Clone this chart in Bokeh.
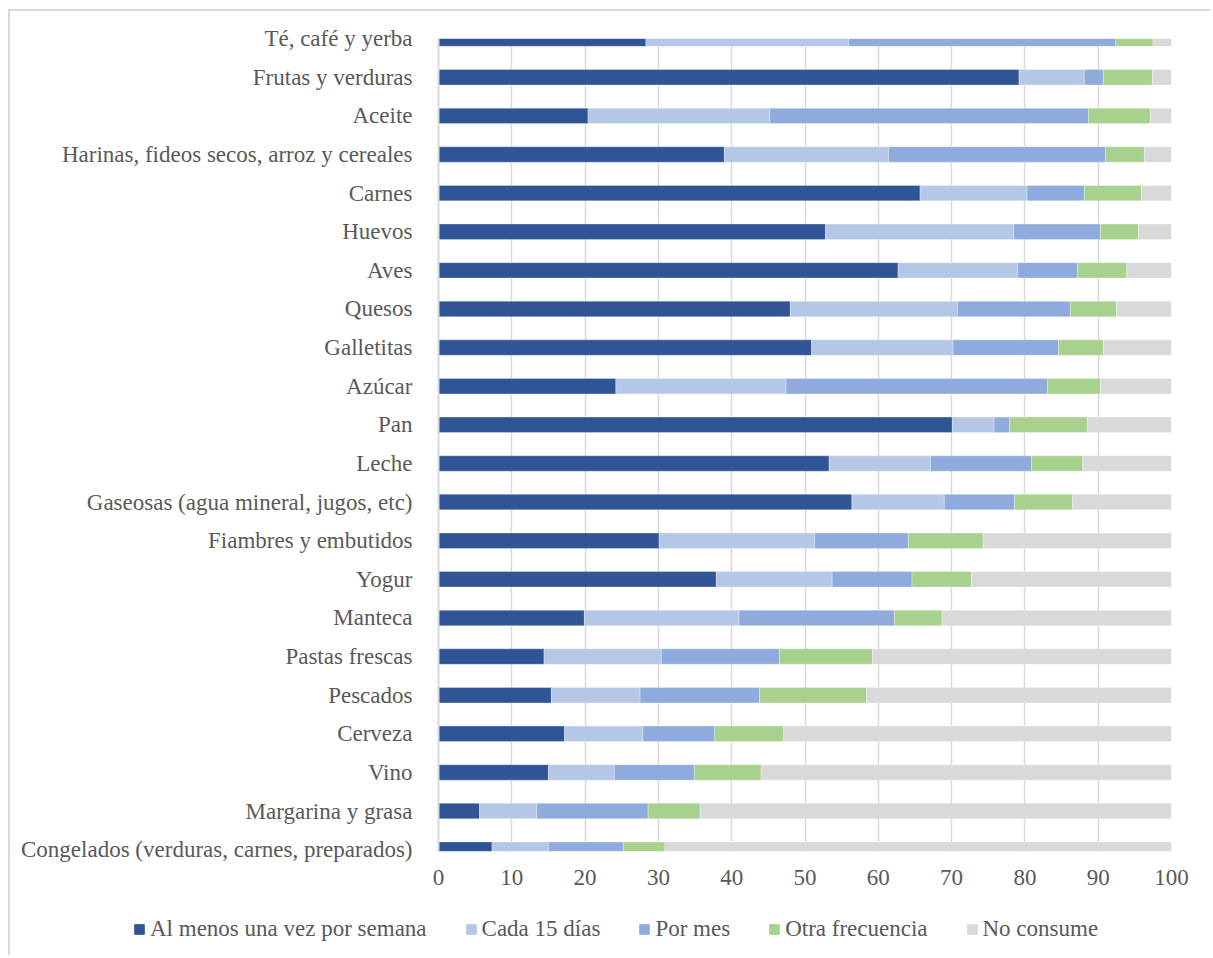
from bokeh.plotting import figure
from bokeh.layouts import column
from bokeh.models import (ColumnDataSource, Range1d, FixedTicker, Legend, LegendItem)
from bokeh.embed import file_html
from bokeh.resources import INLINE

categories = ["Té, café y yerba", "Frutas y verduras", "Aceite",
              "Harinas, fideos secos, arroz y cereales", "Carnes", "Huevos", "Aves",
              "Quesos", "Galletitas", "Azúcar", "Pan", "Leche",
              "Gaseosas (agua mineral, jugos, etc)", "Fiambres y embutidos", "Yogur",
              "Manteca", "Pastas frescas", "Pescados", "Cerveza", "Vino",
              "Margarina y grasa", "Congelados (verduras, carnes, preparados)"]

semana = [28.3, 79.2, 20.4, 39.0, 65.7, 52.8, 62.7, 48.0, 50.9, 24.2, 70.1,
          53.3, 56.4, 30.1, 37.9, 19.9, 14.4, 15.4, 17.2, 15.0, 5.6, 7.3]
quince = [27.7, 8.9, 24.8, 22.4, 14.6, 25.7, 16.3, 22.8, 19.3, 23.2, 5.7,
          13.8, 12.6, 21.2, 15.8, 21.1, 16.0, 12.1, 10.7, 9.0, 7.8, 7.7]
mes = [36.4, 2.6, 43.5, 29.6, 7.8, 11.8, 8.2, 15.4, 14.4, 35.7, 2.1,
       13.8, 9.6, 12.8, 10.9, 21.2, 16.1, 16.3, 9.8, 10.9, 15.2, 10.2]
otra = [5.1, 6.7, 8.4, 5.3, 7.8, 5.2, 6.7, 6.3, 6.1, 7.2, 10.6,
        7.0, 7.9, 10.2, 8.1, 6.5, 12.7, 14.6, 9.4, 9.1, 7.1, 5.7]
no_consume = [2.5, 2.6, 2.9, 3.7, 4.1, 4.5, 6.1, 7.5, 9.3, 9.7, 11.5,
              12.1, 13.5, 25.7, 27.3, 31.3, 40.8, 41.6, 52.9, 56.0, 64.3, 69.1]

series_names = ["Al menos una vez por semana", "Cada 15 días", "Por mes",
                "Otra frecuencia", "No consume"]
x_ticks = [0, 10, 20, 30, 40, 50, 60, 70, 80, 90, 100]

colors = ["#2F5597", "#B4C7E7", "#8FAADC", "#A9D18E", "#D9D9D9"]
FONT = "Liberation Serif"
TXT = "#595959"
FS = "23px"

n = len(categories)
ypos = [n - 1 - i for i in range(n)]
keys = ["s0", "s1", "s2", "s3", "s4"]
source = ColumnDataSource(dict(y=ypos, s0=semana, s1=quince, s2=mes, s3=otra, s4=no_consume))

p = figure(width=1200, height=884, output_backend="svg", toolbar_location=None,
           x_range=Range1d(0, 100), y_range=Range1d(-0.047, n - 1 + 0.003),
           min_border_left=428, min_border_right=39, min_border_top=27, min_border_bottom=44)
p.frame_align = False

rs = p.hbar_stack(keys, y="y", height=0.4, color=colors, source=source,
                  line_color="white", line_width=0.6, line_alpha=0.5)

p.xaxis.ticker = FixedTicker(ticks=x_ticks)
p.yaxis.ticker = FixedTicker(ticks=ypos)
p.yaxis.major_label_overrides = {ypos[i]: categories[i] for i in range(n)}

for ax in [p.xaxis[0], p.yaxis[0]]:
    ax.major_tick_line_color = None
    ax.minor_tick_line_color = None
    ax.major_label_text_font = FONT
    ax.major_label_text_font_size = FS
    ax.major_label_text_color = TXT
p.xaxis.axis_line_color = None
p.xaxis.major_label_standoff = 12
p.yaxis.axis_line_color = "#D9D9D9"
p.yaxis.axis_line_width = 2
p.yaxis.major_label_standoff = 20

p.xgrid.ticker = FixedTicker(ticks=x_ticks)
p.xgrid.grid_line_color = "#D9D9D9"
p.xgrid.grid_line_width = 1.5
p.ygrid.grid_line_color = None
p.outline_line_color = None

# legend strip below the chart (same data, ranges far away; only the legend shows)
p2 = figure(width=1200, height=60, output_backend="svg", toolbar_location=None,
            x_range=Range1d(-1000, -999), y_range=Range1d(-1000, -999),
            min_border_left=0, min_border_right=0, min_border_top=0, min_border_bottom=0)
p2.frame_align = False
p2.axis.visible = False
p2.grid.visible = False
p2.outline_line_color = None
lr = p2.hbar_stack(keys, y="y", height=0.4, color=colors, source=source)
items = [LegendItem(label=series_names[i], renderers=[lr[i]]) for i in range(5)]
legend = Legend(items=items, orientation="horizontal", location=(123, 13),
                glyph_width=12, glyph_height=12, label_standoff=5, spacing=38,
                padding=0, margin=0, border_line_color=None, background_fill_alpha=0,
                label_text_font=FONT, label_text_font_size=FS, label_text_color=TXT)
p2.add_layout(legend)

layout = column(p, p2, spacing=0, margin=(9, 0, 0, 8),
                styles={"border-top": "2px solid #D9D9D9", "border-left": "2px solid #D9D9D9"})
open("out.html", "w").write(file_html(layout, INLINE))
